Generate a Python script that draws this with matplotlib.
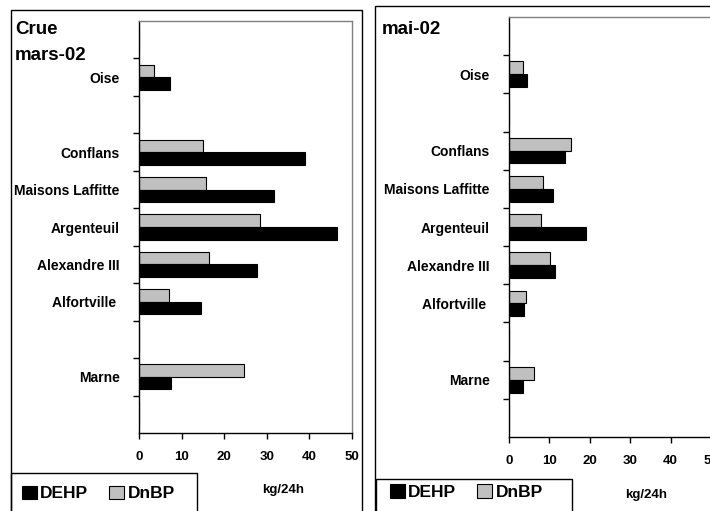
import numpy as np
import matplotlib.pyplot as plt
from matplotlib.patches import Rectangle

plt.rcParams['font.family'] = ['Liberation Sans', 'DejaVu Sans']
plt.rcParams['font.weight'] = 'bold'

# categories, top to bottom (empty slots are blank rows in the original)
stations = ["", "Oise", "", "Conflans", "Maisons Laffitte", "Argenteuil",
            "Alexandre III", "Alfortville ", "", "Marne", ""]

# kg/24h, crue mars-02
dehp_mars = [0, 7.3, 0, 38.9, 31.7, 46.4, 27.6, 14.6, 0, 7.4, 0]
dnbp_mars = [0, 3.5, 0, 15.1, 15.7, 28.4, 16.5, 7.0, 0, 24.7, 0]

# kg/24h, mai-02
dehp_mai = [0, 4.4, 0, 13.9, 10.9, 19.1, 11.4, 3.7, 0, 3.5, 0]
dnbp_mai = [0, 3.4, 0, 15.3, 8.5, 8.0, 10.2, 4.1, 0, 6.1, 0]

xticks = [0, 10, 20, 30, 40, 50]

W, H = 710, 511
fig = plt.figure(figsize=(W / 100, H / 100), dpi=100)


def fx(px):
    return px / W


def fy(py):
    return 1 - py / H


def panel(rect, dehp, dnbp):
    ax = fig.add_axes(rect)
    y = np.arange(len(stations))
    h = 0.335
    bars_g = ax.barh(y - h / 2, dnbp, height=h, color='#c0c0c0',
                     edgecolor='black', linewidth=0.8)
    bars_k = ax.barh(y + h / 2, dehp, height=h, color='black',
                     edgecolor='black', linewidth=0.8)
    ax.set_ylim(len(stations) - 0.5, -0.5)
    ax.set_xlim(0, 50)
    ax.set_yticks(y)
    ax.set_yticklabels(stations, fontsize=10, fontweight='bold')
    ax.set_yticks(np.arange(0.5, len(stations) - 1), minor=True)
    ax.tick_params(axis='y', which='major', length=0, pad=14)
    ax.tick_params(axis='y', which='minor', length=4, width=1, direction='out')
    ax.set_xticks(xticks)
    ax.set_xticklabels([str(t) for t in xticks], fontsize=9.5, fontweight='bold')
    ax.tick_params(axis='x', length=4, width=1, pad=9)
    for s in ['top', 'right']:
        ax.spines[s].set_color('#808080')
        ax.spines[s].set_linewidth(1)
    for s in ['left', 'bottom']:
        ax.spines[s].set_color('black')
        ax.spines[s].set_linewidth(1)
    return ax, bars_k, bars_g


ax1, k1, g1 = panel([fx(139), fy(433), fx(352) - fx(139), fy(21) - fy(433)],
                    dehp_mars, dnbp_mars)
ax2, k2, g2 = panel([fx(509), fy(437), fx(711) - fx(509), fy(17) - fy(437)],
                    dehp_mai, dnbp_mai)

# outer panel frames
fig.patches.append(Rectangle((fx(11), fy(530)), fx(362) - fx(11), fy(10) - fy(530),
                             transform=fig.transFigure, fill=False,
                             edgecolor='black', linewidth=1))
fig.patches.append(Rectangle((fx(375), fy(530)), fx(730) - fx(375), fy(6) - fy(530),
                             transform=fig.transFigure, fill=False,
                             edgecolor='black', linewidth=1))

# legend frames
fig.patches.append(Rectangle((fx(11), fy(530)), fx(197) - fx(11), fy(473) - fy(530),
                             transform=fig.transFigure, fill=False,
                             edgecolor='black', linewidth=1))
fig.patches.append(Rectangle((fx(376), fy(530)), fx(572) - fx(376), fy(479) - fy(530),
                             transform=fig.transFigure, fill=False,
                             edgecolor='black', linewidth=1))

# titles
fig.text(fx(15), fy(29), "Crue", fontsize=13.5, fontweight='bold', va='center')
fig.text(fx(15), fy(55), "mars-02", fontsize=13.5, fontweight='bold', va='center')
fig.text(fx(382), fy(29), "mai-02", fontsize=13.5, fontweight='bold', va='center')

# units
fig.text(fx(283), fy(490), "kg/24h", fontsize=9.5, fontweight='bold',
         ha='center', va='center')
fig.text(fx(646), fy(495), "kg/24h", fontsize=9.5, fontweight='bold',
         ha='center', va='center')

# legends
for x0, yc, k, g in [(22, 493.5, k1, g1), (390, 492, k2, g2)]:
    fig.legend([k, g], ["DEHP", "DnBP"], loc='center left',
               bbox_to_anchor=(fx(x0), fy(yc)), ncol=2, frameon=False,
               prop={'size': 12.5, 'weight': 'bold'}, borderaxespad=0,
               borderpad=0, handlelength=0.85, handleheight=0.85,
               handletextpad=0.2, columnspacing=1.2)

fig.savefig("out.png", dpi=100, facecolor='white')
